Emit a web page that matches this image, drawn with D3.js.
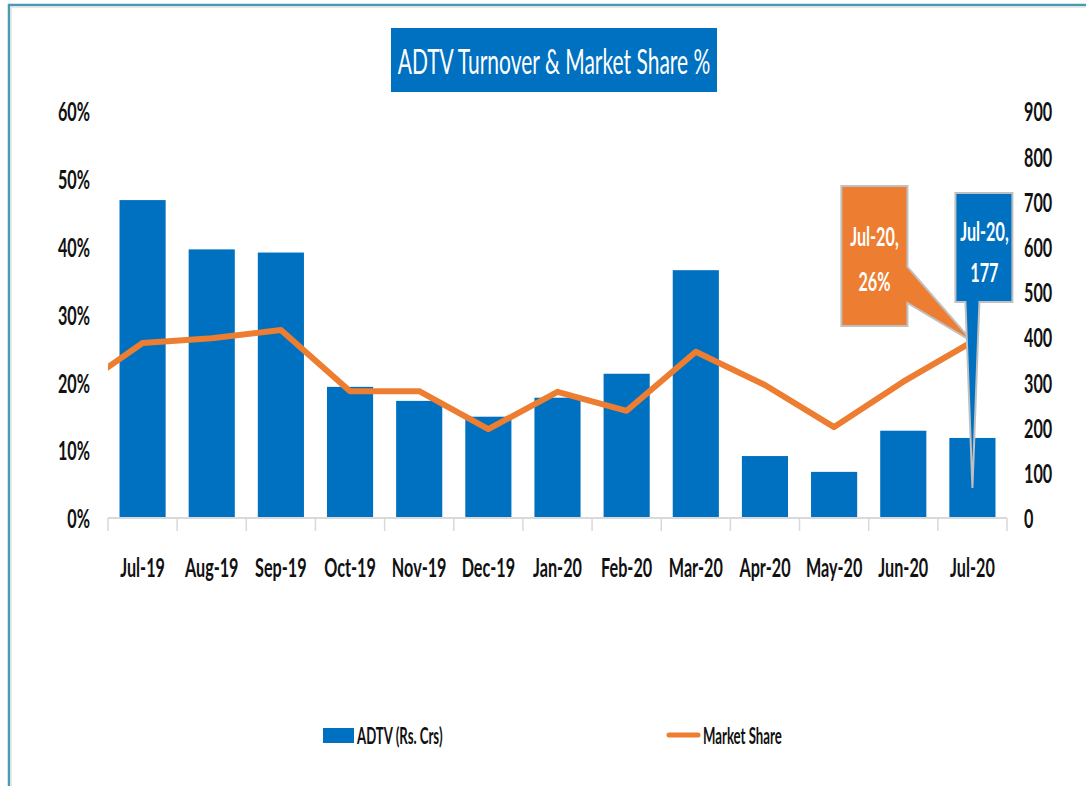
<html>
<head>
<script src="https://cdn.jsdelivr.net/npm/d3@7"></script>
<style>
	body { margin: 0; background-color: white; }
	text { font-family: "Lato", "Open Sans", sans-serif; }
</style>
</head>
<body>
<script>
	// data
	var months = ["Jul-19","Aug-19","Sep-19","Oct-19","Nov-19","Dec-19","Jan-20","Feb-20","Mar-20","Apr-20","May-20","Jun-20","Jul-20"];
	var adtv = [703,594,587,290,259,224,266,319,548,137,102,193,177];
	var share = [0.258,0.265,0.277,0.187,0.187,0.131,0.186,0.158,0.245,0.196,0.134,0.201,0.26];
	var prevShare = 0.187; // Jun-19, only the clipped stub at the left edge shows
	var leftTicks = [0,0.1,0.2,0.3,0.4,0.5,0.6];
	var rightTicks = [0,100,200,300,400,500,600,700,800,900];

	var width = 1086, height = 786;
	var plotL = 108, plotR = 1007, plotT = 111, plotB = 518;
	var blue = "#0070C0", orange = "#ED7D31";
	var squeeze = 0.6; // the reference font is very narrow

	var svg = d3.select("body").append("svg")
		.attr("width", width)
		.attr("height", height);

	// narrow text: a normal font squeezed sideways
	function label(x, y, str, size, anchor, weight, fill){
		var g = svg.append("g").attr("transform", "translate(" + x + "," + y + ") scale(" + squeeze + ",1)");
		g.append("text").attr("text-anchor", anchor).attr("dominant-baseline", "central")
			.attr("font-size", size).attr("font-weight", weight).attr("fill", fill).text(str);
		return g;
	}

	// frame
	svg.append("rect").attr("x", 9).attr("y", 5).attr("width", width).attr("height", height)
		.attr("fill", "white").attr("stroke", "#4a9bb0").attr("stroke-width", 2.5);
	svg.append("rect").attr("x", 11).attr("y", 7).attr("width", width).attr("height", height)
		.attr("fill", "none").attr("stroke", "#dde3e6").attr("stroke-width", 1.5);

	var x = d3.scaleBand().domain(months).range([plotL, plotR]).paddingInner(0.333).paddingOuter(0.1665);
	var yL = d3.scaleLinear().domain([0, 0.6]).range([plotB, plotT]);
	var yR = d3.scaleLinear().domain([0, 900]).range([plotB, plotT]);
	var cx = function(m){ return x(m) + x.bandwidth()/2; };

	// title
	svg.append("rect").attr("x", 391).attr("y", 28).attr("width", 326).attr("height", 64).attr("fill", blue);
	label(554, 61, "ADTV Turnover & Market Share %", 35, "middle", "normal", "white");

	// bars
	svg.selectAll("rect.bar").data(months).enter().append("rect").attr("class", "bar")
		.attr("x", function(d){ return x(d); })
		.attr("y", function(d,i){ return yR(adtv[i]); })
		.attr("width", x.bandwidth())
		.attr("height", function(d,i){ return plotB - yR(adtv[i]); })
		.attr("fill", blue);

	// category axis
	svg.append("line").attr("x1", plotL).attr("x2", plotR).attr("y1", plotB).attr("y2", plotB)
		.attr("stroke", "#d9d9d9").attr("stroke-width", 2);
	var bounds = months.map(function(d){ return x(d) - x.step()*x.paddingInner()/2; }).concat([plotR]);
	svg.selectAll("line.tick").data(bounds).enter().append("line").attr("class", "tick")
		.attr("x1", function(d){ return d; }).attr("x2", function(d){ return d; })
		.attr("y1", plotB).attr("y2", plotB + 13)
		.attr("stroke", "#d9d9d9").attr("stroke-width", 1.5);
	months.forEach(function(m){ label(cx(m), 567, m, 27, "middle", "bold", "#111"); });

	// value axes
	leftTicks.forEach(function(t){ label(90, yL(t), d3.format(".0%")(t), 27, "end", "bold", "#111"); });
	rightTicks.forEach(function(t){ label(1024, yR(t), t, 27, "start", "bold", "#111"); });

	// market share line, clipped to plot area
	svg.append("clipPath").attr("id", "plot").append("rect")
		.attr("x", plotL).attr("y", 0).attr("width", plotR - plotL).attr("height", plotB);
	var pts = [[cx(months[0]) - x.step(), yL(prevShare)]].concat(months.map(function(m,i){ return [cx(m), yL(share[i])]; }));
	svg.append("path").attr("d", d3.line()(pts)).attr("clip-path", "url(#plot)")
		.attr("fill", "none").attr("stroke", orange).attr("stroke-width", 6).attr("stroke-linejoin", "round");

	// callouts for the last month
	var last = months.length - 1;
	var tx = cx(months[last]), ty = yL(share[last]);
	svg.append("path")
		.attr("d", "M" + (tx-131) + "," + 186 + "H" + (tx-65) + "V" + 267 + "L" + tx + "," + ty + "L" + (tx-65) + "," + 303 + "V" + 326 + "H" + (tx-131) + "Z")
		.attr("fill", orange).attr("stroke", "#c0c0c0").attr("stroke-width", 2);
	label(tx-98, 236, months[last] + ",", 27, "middle", "bold", "white");
	label(tx-98, 281, d3.format(".0%")(share[last]), 27, "middle", "bold", "white");

	var bx = tx, by = yR(adtv[last]) + 50;
	svg.append("path")
		.attr("d", "M" + (bx-17) + "," + 193 + "H" + (bx+40) + "V" + 302 + "H" + (bx+7) + "L" + bx + "," + by + "L" + (bx-7) + "," + 302 + "H" + (bx-17) + "Z")
		.attr("fill", blue).attr("stroke", "#c0c0c0").attr("stroke-width", 2);
	label(bx+12, 231, months[last] + ",", 27, "middle", "bold", "white");
	label(bx+12, 272, adtv[last], 27, "middle", "bold", "white");

	// legend
	svg.append("rect").attr("x", 323).attr("y", 728).attr("width", 31).attr("height", 15).attr("fill", blue);
	label(357, 736, "ADTV (Rs. Crs)", 22, "start", "bold", "#111");
	svg.append("line").attr("x1", 669).attr("x2", 698).attr("y1", 735).attr("y2", 735)
		.attr("stroke", orange).attr("stroke-width", 5).attr("stroke-linecap", "round");
	label(703, 736, "Market Share", 22, "start", "bold", "#111");
</script>
</body>
</html>
